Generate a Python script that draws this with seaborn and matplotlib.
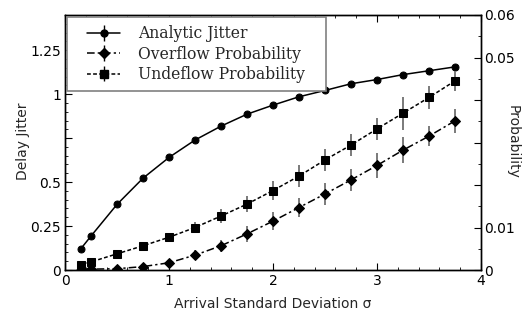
import numpy as np
import pandas as pd
import matplotlib
matplotlib.use("Agg")
import matplotlib.pyplot as plt
import seaborn as sns
from matplotlib.ticker import MultipleLocator, FixedLocator, FixedFormatter
from matplotlib.legend_handler import HandlerErrorbar

sigma = [0.15, 0.25, 0.5, 0.75, 1.0, 1.25, 1.5, 1.75, 2.0, 2.25, 2.5, 2.75, 3.0, 3.25, 3.5, 3.75]
jitter = [0.119, 0.193, 0.373, 0.522, 0.640, 0.739, 0.818, 0.886, 0.9375, 0.985, 1.021, 1.059, 1.083, 1.111, 1.133, 1.155]
overflow = [0.0, 0.0002, 0.0003, 0.0008, 0.0017, 0.0035, 0.0057, 0.0085, 0.0115, 0.0147, 0.0179, 0.0212, 0.0246, 0.0282, 0.0315, 0.0351]
overflow_err = [0.0, 0.0002, 0.0003, 0.0004, 0.0007, 0.0012, 0.0014, 0.0018, 0.0022, 0.0023, 0.0026, 0.0025, 0.0029, 0.0031, 0.0024, 0.0028]
underflow = [0.0012, 0.0019, 0.0038, 0.0057, 0.0077, 0.0100, 0.0127, 0.0155, 0.0187, 0.0221, 0.0259, 0.0294, 0.0332, 0.0369, 0.0406, 0.0445]
underflow_err = [0.0003, 0.0004, 0.0006, 0.0008, 0.0010, 0.0014, 0.0016, 0.0019, 0.0022, 0.0026, 0.0026, 0.0026, 0.0026, 0.0039, 0.0027, 0.0023]

labels = ["Analytic Jitter", "Overflow Probability", "Undeflow Probability"]
left_ticks = [0, 0.25, 0.5, 0.75, 1.0, 1.25]
left_labels = ["0", "0.25", "0.5", "", "1", "1.25"]
right_ticks = [0, 0.01, 0.02, 0.03, 0.04, 0.05, 0.06]
right_labels = ["0", "0.01", "", "", "", "0.05", "0.06"]

sns.set_style("ticks")
plt.rcParams["font.family"] = ["DejaVu Sans"]
plt.rcParams["font.size"] = 10
for a in ("x", "y"):
    plt.rcParams[f"{a}tick.direction"] = "in"
    plt.rcParams[f"{a}tick.major.size"] = 5
    plt.rcParams[f"{a}tick.minor.size"] = 2.5
    plt.rcParams[f"{a}tick.major.width"] = 0.8
    plt.rcParams[f"{a}tick.minor.width"] = 0.6
    plt.rcParams[f"{a}tick.color"] = "black"
    plt.rcParams[f"{a}tick.labelcolor"] = "black"

df = pd.DataFrame({"sigma": sigma, "jitter": jitter, "overflow": overflow,
                   "underflow": underflow})

fig = plt.figure(figsize=(5.26, 3.15), dpi=100)
ax = fig.add_axes([65 / 526, 1 - 270 / 315, (481 - 65) / 526, (270 - 15) / 315])
ax2 = ax.twinx()

ecol = "#707070"
dashdot = (0, (5, 2, 1.5, 2))
shortdash = (0, (2.5, 1.5))
# left axis: jitter
sns.lineplot(data=df, x="sigma", y="jitter", ax=ax, color="k", marker="o",
             markersize=5, markeredgecolor="k", linewidth=1.1, linestyle="-", legend=False)
# right axis: probabilities
ax2.errorbar(sigma, overflow, yerr=overflow_err, fmt="none", ecolor=ecol, elinewidth=1.3, zorder=1)
ax2.errorbar(sigma, underflow, yerr=underflow_err, fmt="none", ecolor=ecol, elinewidth=1.3, zorder=1)
sns.lineplot(data=df, x="sigma", y="overflow", ax=ax2, color="k", marker="D",
             markersize=5.5, markeredgecolor="k", linewidth=1.1, linestyle=dashdot,
             legend=False, zorder=3)
sns.lineplot(data=df, x="sigma", y="underflow", ax=ax2, color="k", marker="s",
             markersize=5.5, markeredgecolor="k", linewidth=1.1, linestyle=shortdash,
             legend=False, zorder=3)

ax.set_xlim(0, 4)
ax.set_ylim(0, 1.45)
ax2.set_ylim(0, 0.06)

ax.xaxis.set_major_locator(MultipleLocator(1))
ax.xaxis.set_minor_locator(MultipleLocator(0.2))
ax.yaxis.set_major_locator(FixedLocator(left_ticks))
ax.yaxis.set_major_formatter(FixedFormatter(left_labels))
ax.yaxis.set_minor_locator(MultipleLocator(0.05))
ax2.yaxis.set_major_locator(FixedLocator(right_ticks))
ax2.yaxis.set_major_formatter(FixedFormatter(right_labels))
ax2.yaxis.set_minor_locator(MultipleLocator(0.005))

ax.tick_params(axis="x", which="both", top=True, bottom=True, pad=3, labelsize=10)
ax.tick_params(axis="y", which="both", left=True, right=False, pad=3, labelsize=10)
ax2.tick_params(axis="y", which="both", right=True, left=False, pad=2, labelsize=10)
ax2.tick_params(axis="x", which="both", top=False, bottom=False)

ax.set_xlabel("Arrival Standard Deviation σ", fontsize=10, labelpad=6)
ax.set_ylabel("Delay Jitter", fontsize=10, va="center", ha="center")
ax.yaxis.set_label_coords(-0.102, 0.503)
ax2.set_ylabel("Probability", fontsize=10, rotation=270, va="center", ha="center")
ax2.yaxis.set_label_coords(1.077, 0.503)

for a in (ax, ax2):
    for s in a.spines.values():
        s.set_color("black")
        s.set_linewidth(1.0)

# legend proxies (errorbar style handles)
h1 = ax2.errorbar([np.nan], [np.nan], yerr=[1], fmt="o-", color="k", ms=5, lw=1.1,
                  ecolor="k", elinewidth=1.0)
h2 = ax2.errorbar([np.nan], [np.nan], yerr=[1], fmt="D", color="k", ms=5.5, lw=1.1,
                  linestyle=dashdot, ecolor="k", elinewidth=1.0)
h3 = ax2.errorbar([np.nan], [np.nan], yerr=[1], fmt="s", color="k", ms=5.5, lw=1.1,
                  linestyle=shortdash, ecolor="k", elinewidth=1.0)
hmap = {h: HandlerErrorbar(xpad=0.78) for h in (h1, h2, h3)}
leg = ax2.legend([h1, h2, h3], labels, loc="upper left",
                 bbox_to_anchor=(0, 0, (328 - 65) / 416, 1), mode="expand",
                 borderaxespad=0.15, fancybox=False, framealpha=1, edgecolor="#808080",
                 prop={"family": "DejaVu Serif", "size": 11.25}, handlelength=2.9,
                 labelspacing=0.22, handletextpad=1.15, borderpad=0.5,
                 handler_map=hmap)
leg.get_frame().set_linewidth(1.2)

fig.savefig("out.png", dpi=100)
